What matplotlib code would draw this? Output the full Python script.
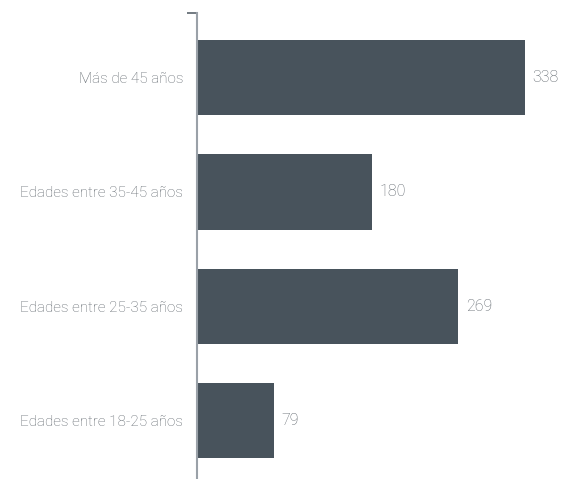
import matplotlib
matplotlib.use('Agg')
import matplotlib.pyplot as plt

# age groups, bottom to top
categories = ['Edades entre 18-25 años', 'Edades entre 25-35 años',
              'Edades entre 35-45 años', 'Más de 45 años']
values = [79, 269, 180, 338]

plt.rcParams['font.family'] = ['Roboto', 'DejaVu Sans']
plt.rcParams['font.weight'] = 'light'

bar_color = '#48535c'
text_color = '#60676e'

fig = plt.figure(figsize=(5.63, 4.79), dpi=100)
ax = fig.add_axes([197 / 563, 0.0, 1 - 197 / 563 - 0.02, 1 - 13 / 479])

pos = list(range(len(categories)))
ax.barh(pos, values, height=0.66, color=bar_color)
for p, v in zip(pos, values):
    ax.text(v + 8, p, str(v), va='center', ha='left', fontsize=11.5,
            color=text_color, fontweight='light')

ax.set_xlim(0, 365.6)
ax.set_ylim(-0.51, 3.565)
ax.set_xticks([])
ax.set_yticks(pos)
ax.set_yticklabels(categories, fontsize=11, color=text_color, fontweight='light')
ax.tick_params(axis='y', length=0, pad=10)
ax.set_yticks([3.565], minor=True)
ax.tick_params(axis='y', which='minor', length=7, width=1.2, color='#5a646c')

for s in ['top', 'right', 'bottom']:
    ax.spines[s].set_visible(False)
ax.spines['left'].set_color('#9aa1a8')
ax.spines['left'].set_linewidth(1.5)

fig.savefig('out.png', dpi=100)
